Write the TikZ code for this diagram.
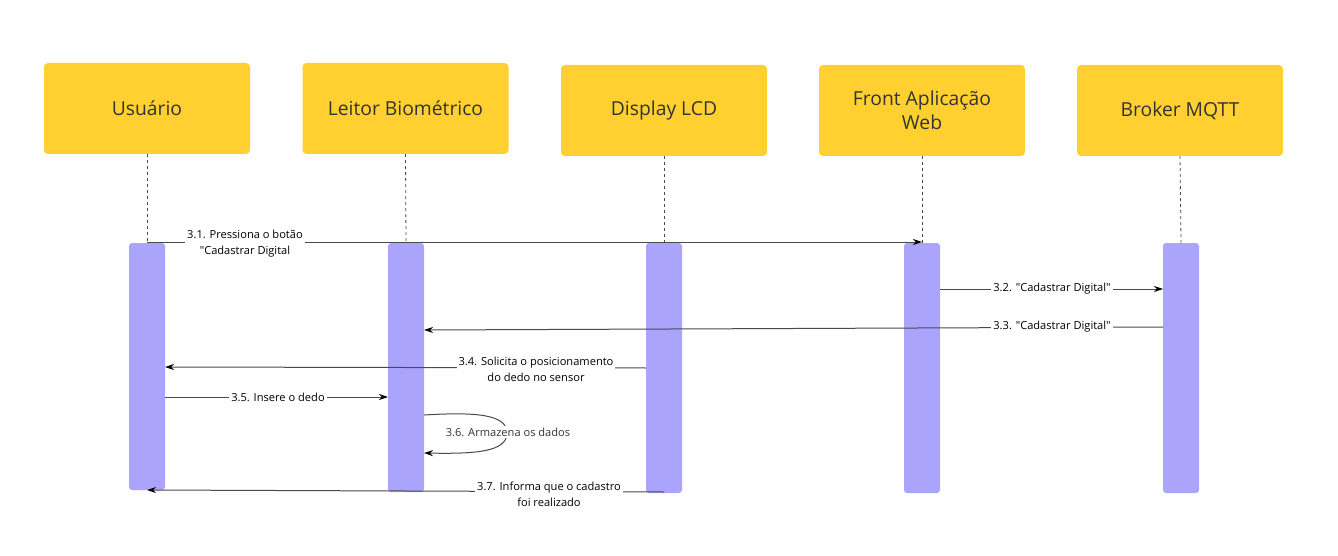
\documentclass[tikz,border=0pt]{standalone}
\usepackage{fontspec}
\setmainfont{Open Sans}[Ligatures=TeXOff]
\usetikzlibrary{arrows.meta}
\definecolor{actor}{HTML}{FFD02F}
\definecolor{actbar}{HTML}{ABA4FD}
\definecolor{txt}{HTML}{333333}
\definecolor{msgline}{HTML}{4A4A4A}
\tikzset{
  actorbox/.style={fill=actor, rounded corners=4pt, minimum width=206pt, minimum height=91pt, inner sep=0pt, text=txt, align=center, font=\fontsize{19.3}{24}\selectfont},
  lifeline/.style={draw=msgline, line width=0.8pt, dash pattern=on 3pt off 3pt},
  actbox/.style={fill=actbar, rounded corners=3pt, minimum width=36pt, inner sep=0pt},
  msg/.style={draw=msgline, line width=1pt, -{Stealth[length=9pt,width=6pt,black]}},
  msglabel/.style={fill=white, inner sep=2pt, text=black, align=center, font=\fontsize{11.1}{16}\selectfont}
}
\begin{document}
\begin{tikzpicture}[x=1pt,y=-1pt]
\useasboundingbox (0,0) rectangle (1338,556);
% actors
\node[actorbox] (usr) at (147,108.5) {Usuário};
\node[actorbox] (lei) at (405.5,108.5) {Leitor Biométrico};
\node[actorbox] (dsp) at (664,110.5) {Display LCD};
\node[actorbox] (frt) at (922,110.5) {Front Aplicação\\Web};
\node[actorbox] (brk) at (1180,110.5) {Broker MQTT};
% activation bars
\node[actbox, minimum height=247pt] (busr) at (147,366.5) {};
\node[actbox, minimum height=249pt] (blei) at (406,367.5) {};
\node[actbox, minimum height=250pt] (bdsp) at (664,368) {};
\node[actbox, minimum height=250pt] (bfrt) at (922,368) {};
\node[actbox, minimum height=250pt] (bbrk) at (1181,368) {};
% lifelines
\draw[lifeline] (usr.south) -- (busr.north);
\draw[lifeline] (lei.south) -- (blei.north);
\draw[lifeline] (dsp.south) -- (bdsp.north);
\draw[lifeline] (frt.south) -- (bfrt.north);
\draw[lifeline] (brk.south) -- (bbrk.north);
% message endpoints
\coordinate (m1s) at (147,242);
\coordinate (m1e) at (922,242);
\coordinate (m2s) at (940,289);
\coordinate (m2e) at (1163,289);
\coordinate (m3s) at (1163,327);
\coordinate (m3e) at (424,330);
\coordinate (m4s) at (646,368);
\coordinate (m4e) at (165,367);
\coordinate (m5s) at (165,397);
\coordinate (m5e) at (388,397);
\coordinate (m6s) at (424,415);
\coordinate (m6e) at (424,453);
\coordinate (m7s) at (664,492);
\coordinate (m7e) at (147,490);
% messages
\draw[msg] (m1s) -- (m1e);
\node[msglabel] (l1) at (245,244) {3.1. Pressiona o botão\\"Cadastrar Digital};
\draw[msg] (m2s) -- (m2e);
\node[msglabel] (l2) at (1052,289) {3.2. "Cadastrar Digital"};
\draw[msg] (m3s) -- (m3e);
\node[msglabel] (l3) at (1052,327) {3.3. "Cadastrar Digital"};
\draw[msg] (m4s) -- (m4e);
\node[msglabel] (l4) at (536,369) {3.4. Solicita o posicionamento\\do dedo no sensor};
\draw[msg] (m5s) -- (m5e);
\node[msglabel] (l5) at (278,397) {3.5. Insere o dedo};
\draw[msg] (m6s) .. controls (475,412) and (507,414) .. (507,433) .. controls (507,452) and (475,454) .. (m6e);
\node[msglabel, text=txt] (l6) at (508,432) {3.6. Armazena os dados};
\draw[msg] (m7s) -- (m7e);
\node[msglabel] (l7) at (549,494) {3.7. Informa que o cadastro\\foi realizado};
\end{tikzpicture}
\end{document}
